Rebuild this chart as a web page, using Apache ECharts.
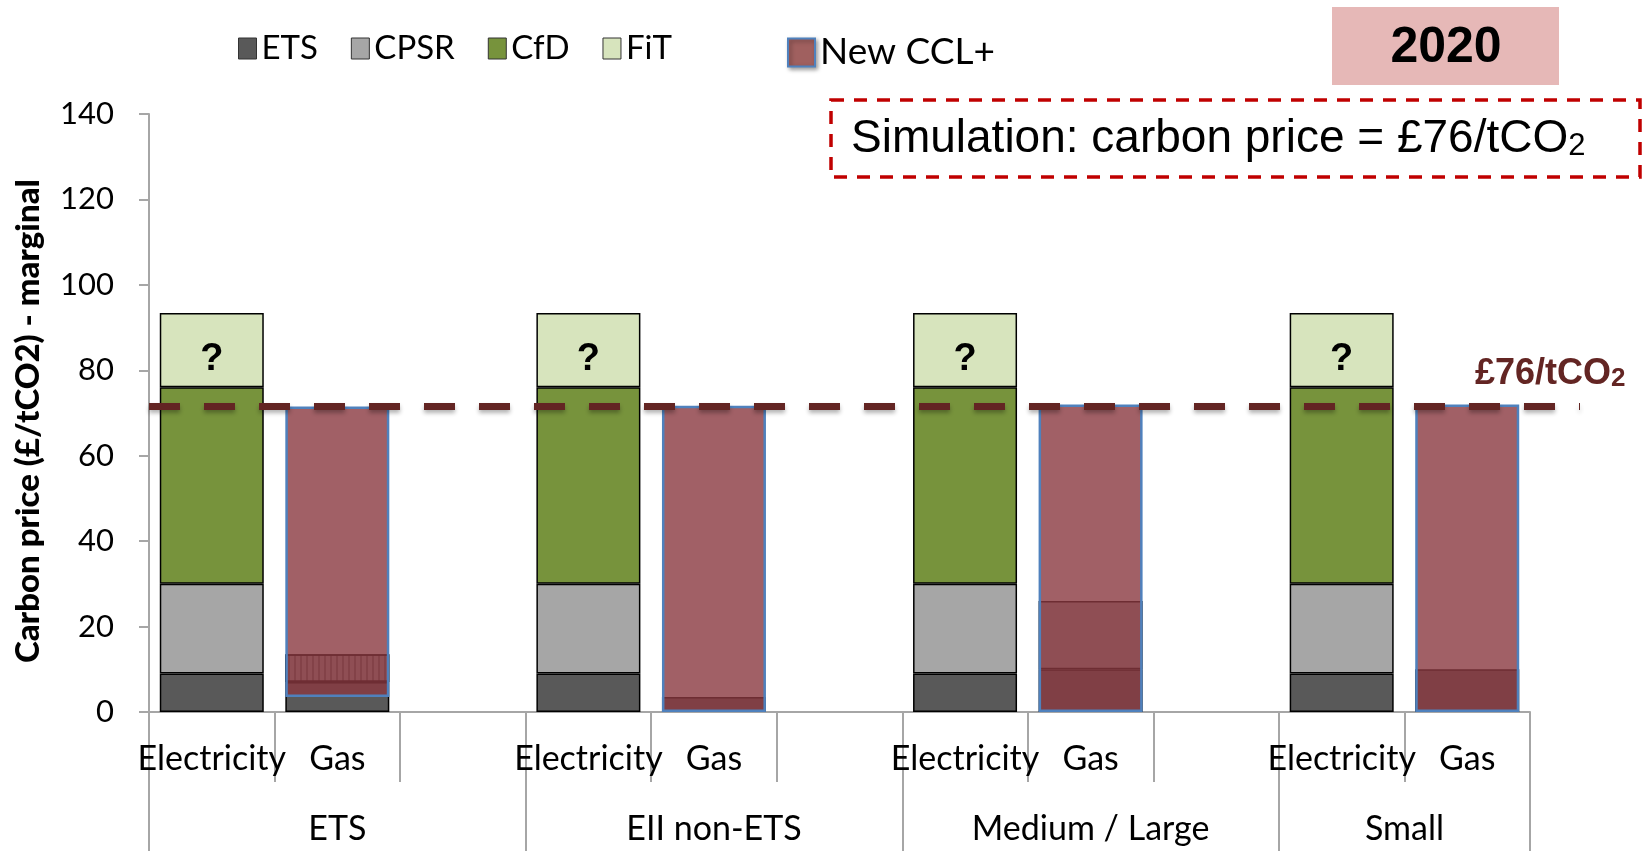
<!DOCTYPE html>
<html>
<head>
<meta charset="utf-8">
<script src="https://cdn.jsdelivr.net/npm/echarts@6/dist/echarts.min.js"></script>
<style>
  html, body { margin: 0; padding: 0; background: #fff; }
  #main { width: 1652px; height: 851px; }
</style>
</head>
<body>
<div id="main"></div>
<script>
// categories (lower level) and groups (upper level)
const categories = ['Electricity', 'Gas', '', 'Electricity', 'Gas', '', 'Electricity', 'Gas', '', 'Electricity', 'Gas'];
const groups = ['ETS', 'EII non-ETS', 'Medium / Large', 'Small'];
const groupSizes = [3, 3, 3, 2];

// stacked components, £/tCO2
const etsValues = [9, 7, '-', 9, 3.5, '-', 9, 10, '-', 9, 10];
const cpsrValues = [21, 6.5, '-', 21, '-', '-', 21, 16, '-', 21, '-'];
const cfdValues = [46, '-', '-', 46, '-', '-', 46, '-', '-', 46, '-'];
const fitValues = [17.4, '-', '-', 17.4, '-', '-', 17.4, '-', '-', 17.4, '-'];

// New CCL+ floating bars (base + height)
const cclBase = ['-', 3.5, '-', '-', 0, '-', '-', 0, '-', '-', 0];
const cclValues = ['-', 68, '-', '-', 71.7, '-', '-', 72, '-', '-', 72];

const priceLine = 71.5;
const yMin = 0, yMax = 140, yStep = 20;

// group axis: one point per half category
const groupLabels = {};
const groupBounds = new Set();
let pos = 0;
groups.forEach(function (g, i) {
    groupBounds.add(2 * pos);
    groupLabels[2 * pos + groupSizes[i]] = g;
    pos += groupSizes[i];
});
groupBounds.add(2 * pos);
const groupPoints = [];
for (let k = 0; k <= 2 * pos; k++) {
    groupPoints.push(groupLabels[k] || '');
}

const chart = echarts.init(document.getElementById('main'));

const calibri = 'Lato';
const axisGray = '#a6a6a6';
const barBorder = { borderColor: '#000', borderWidth: 1.5 };

const stackSeries = function (name, data, color, extra) {
    return Object.assign({
        name: name,
        type: 'bar',
        stack: 'parts',
        barWidth: 104,
        barGap: '-100%',
        data: data,
        itemStyle: Object.assign({ color: color }, barBorder)
    }, extra || {});
};

const option = {
    animation: false,
    backgroundColor: '#fff',
    grid: [
        { left: 149, right: 122, top: 114, bottom: 139 },
        { left: 149, right: 72, top: 114, bottom: 139 }
    ],
    legend: [
        {
            data: ['ETS', 'CPSR', 'CfD', 'FiT'],
            left: 233, top: 27,
            icon: 'rect', itemWidth: 18, itemHeight: 21, itemGap: 33,
            itemStyle: { borderColor: '#333', borderWidth: 1 },
            textStyle: { fontFamily: calibri, fontSize: 33, color: '#000' }
        },
        {
            data: ['New CCL+'],
            left: 782, top: 29,
            icon: 'rect', itemWidth: 27, itemHeight: 28,
            itemStyle: {
                color: '#a0605f', borderColor: '#4f81bd', borderWidth: 2,
                shadowBlur: 4, shadowOffsetX: 2, shadowOffsetY: 2, shadowColor: 'rgba(0,0,0,0.35)'
            },
            textStyle: { fontFamily: calibri, fontSize: 37, color: '#000' }
        }
    ],
    xAxis: [
        {
            type: 'category',
            gridIndex: 0,
            data: categories,
            position: 'bottom',
            axisLine: { lineStyle: { color: axisGray, width: 2 } },
            axisTick: { show: true, interval: 0, length: 70, lineStyle: { color: axisGray, width: 2 } },
            axisLabel: { interval: 0, margin: 30, fontFamily: calibri, fontSize: 34, color: '#000' }
        },
        {
            type: 'category',
            gridIndex: 0,
            data: groupPoints,
            position: 'bottom',
            boundaryGap: false,
            axisLine: { show: false },
            axisTick: {
                show: true, length: 150,
                interval: function (index) { return groupBounds.has(index); },
                lineStyle: { color: axisGray, width: 2 }
            },
            axisLabel: {
                margin: 100,
                interval: function (index, value) { return value !== ''; },
                fontFamily: calibri, fontSize: 34, color: '#000'
            }
        },
        { type: 'value', gridIndex: 1, min: 0, max: 1, show: false }
    ],
    yAxis: [
        {
            type: 'value',
            gridIndex: 0,
            min: yMin, max: yMax, interval: yStep,
            name: 'Carbon price (£/tCO2) - marginal',
            nameLocation: 'middle',
            nameRotate: 90,
            nameGap: 104,
            nameTextStyle: {
                fontFamily: calibri, fontWeight: 900, fontSize: 33, color: '#000',
                padding: [0, 16, 0, 0]
            },
            axisLine: { show: true, lineStyle: { color: axisGray, width: 2 } },
            axisTick: { show: true, length: 10, lineStyle: { color: axisGray, width: 2 } },
            axisLabel: { margin: 35, fontFamily: calibri, fontSize: 31, color: '#000' },
            splitLine: { show: false }
        },
        { type: 'value', gridIndex: 1, min: yMin, max: yMax, show: false }
    ],
    series: [
        stackSeries('ETS', etsValues, '#595959'),
        stackSeries('CPSR', cpsrValues.map(function (v, i) {
            // ETS gas portion is hatched
            return i === 1 ? {
                value: v,
                itemStyle: {
                    decal: {
                        symbol: 'rect', symbolSize: 1,
                        dashArrayX: [2, 4], dashArrayY: [1, 0],
                        color: 'rgba(0,0,0,0.35)'
                    }
                }
            } : v;
        }), '#a6a6a6'),
        stackSeries('CfD', cfdValues, '#77933c'),
        stackSeries('FiT', fitValues, '#d7e4bd', {
            label: {
                show: true, position: 'inside', formatter: '?', offset: [0, 9],
                fontFamily: 'Liberation Sans', fontWeight: 'bold', fontSize: 38, color: '#000'
            }
        }),
        {
            name: 'base',
            type: 'bar',
            stack: 'ccl',
            barWidth: 104,
            barGap: '-100%',
            data: cclBase,
            itemStyle: { color: 'transparent' },
            silent: true
        },
        {
            name: 'New CCL+',
            type: 'bar',
            stack: 'ccl',
            barWidth: 104,
            barGap: '-100%',
            data: cclValues,
            itemStyle: {
                color: 'rgba(137,56,64,0.8)',
                borderColor: '#4f81bd', borderWidth: 2.5
            }
        },
        {
            name: 'price',
            type: 'line',
            xAxisIndex: 2,
            yAxisIndex: 1,
            data: [[0, priceLine], [1, priceLine]],
            symbol: 'none',
            z: 5,
            lineStyle: {
                color: '#632523', width: 7, type: [31, 24], cap: 'butt',
                shadowBlur: 4, shadowOffsetY: 3, shadowColor: 'rgba(0,0,0,0.3)'
            }
        }
    ],
    graphic: [
        {
            type: 'rect',
            shape: { x: 1332, y: 7, width: 227, height: 78 },
            style: { fill: '#e6b8b7' }
        },
        {
            type: 'text',
            x: 1446, y: 48,
            style: {
                text: '2020', fill: '#000',
                font: 'bold 50px "Liberation Sans", Arial',
                textAlign: 'center', textVerticalAlign: 'middle'
            }
        },
        {
            type: 'rect',
            shape: { x: 831, y: 100, width: 809, height: 77 },
            style: { fill: '#fff', stroke: '#c00000', lineWidth: 3.5, lineDash: [13, 10] }
        },
        {
            type: 'text',
            x: 851, y: 139,
            style: {
                text: '{a|Simulation: carbon price = £76/tCO}{b|2}',
                textVerticalAlign: 'middle',
                rich: {
                    a: { fontFamily: 'Liberation Sans', fontSize: 46, fill: '#000' },
                    b: { fontFamily: 'Liberation Sans', fontSize: 31, fill: '#000', padding: [14, 0, 0, 0] }
                }
            }
        },
        {
            type: 'text',
            x: 1475, y: 374,
            style: {
                text: '{a|£76/tCO}{b|2}',
                textVerticalAlign: 'middle',
                rich: {
                    a: { fontFamily: 'Liberation Sans', fontWeight: 'bold', fontSize: 36, fill: '#632523' },
                    b: { fontFamily: 'Liberation Sans', fontWeight: 'bold', fontSize: 26, fill: '#632523', padding: [10, 0, 0, 0] }
                }
            }
        }
    ]
};

chart.setOption(option);
</script>
</body>
</html>
